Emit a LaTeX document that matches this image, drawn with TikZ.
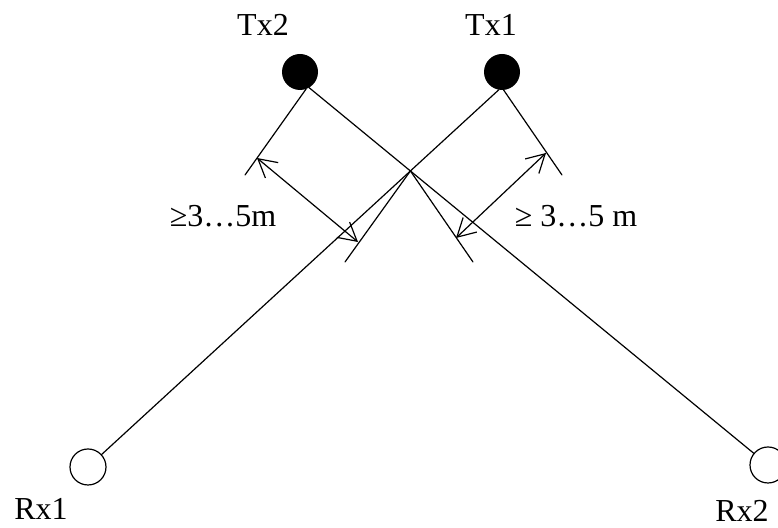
\documentclass[tikz,border=0pt]{standalone}
\usepackage{fontspec}
\setmainfont{Liberation Serif}
\usetikzlibrary{arrows.meta}

\begin{document}
\begin{tikzpicture}[
  x=0.5pt,
  y=-0.5pt,
  line cap=round,
  line join=round,
  line width=0.6pt,
  font=\fontsize{16}{19}\selectfont,
  txnode/.style={circle,fill=black,minimum size=18pt,inner sep=0pt,outer sep=0pt},
  rxnode/.style={circle,draw,minimum size=18pt,inner sep=0pt,outer sep=0pt},
  dimarrow/.style={{Straight Barb[length=9pt,width=10pt]}-{Straight Barb[length=9pt,width=10pt]}}
]
  \useasboundingbox (0,0) rectangle (778,528);

  % stations
  \node[txnode] (tx2) at (300,72) {};
  \node[txnode] (tx1) at (502,72) {};
  \node[rxnode] (rx1) at (88,467) {};
  \node[rxnode] (rx2) at (768,465) {};
  \node (tx2lbl) at (263,25) {Tx2};
  \node (tx1lbl) at (491,25) {Tx1};
  \node (rx1lbl) at (41,509) {Rx1};
  \node (rx2lbl) at (742,511) {Rx2};

  % beams
  \draw (tx2.-60) -- (rx2);
  \draw (tx1.-100) -- (rx1);
  \coordinate (cross) at (intersection of tx2.-60--rx2 and tx1.-100--rx1);

  % extension lines
  \coordinate (tx2e) at (245,175);
  \coordinate (tx1e) at (562,175);
  \coordinate (lext) at (345,262);
  \coordinate (rext) at (473,262);
  \draw (tx2.-70) -- (tx2e);
  \draw (tx1.-85) -- (tx1e);
  \draw (cross) -- (lext);
  \draw (cross) -- (rext);

  % distances
  \coordinate (la) at (257,158);
  \coordinate (lb) at (358,242);
  \coordinate (ra) at (546,153);
  \coordinate (rb) at (456,238);
  \draw[dimarrow] (la) -- (lb);
  \draw[dimarrow] (ra) -- (rb);
  \node (ldist) at (223,216) {≥3…5m};
  \node (rdist) at (576,216) {≥ 3…5 m};
\end{tikzpicture}
\end{document}
